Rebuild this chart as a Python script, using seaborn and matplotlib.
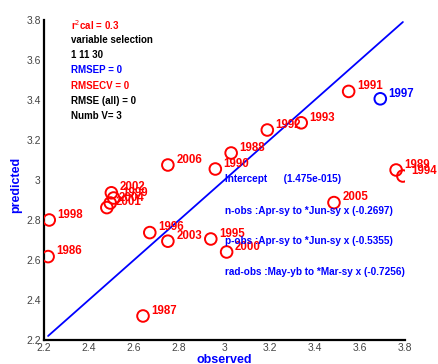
import numpy as np
import pandas as pd
import matplotlib
matplotlib.use("Agg")
import matplotlib.pyplot as plt
import seaborn as sns

# ---------- Data ----------
years = [1986, 1987, 1988, 1989, 1990, 1991, 1992, 1993, 1994, 1995,
         1996, 1998, 1999, 2000, 2001, 2002, 2003, 2004, 2005, 2006]
observed = [2.22, 2.64, 3.03, 3.76, 2.96, 3.55, 3.19, 3.34, 3.79, 2.94,
            2.67, 2.225, 2.51, 3.01, 2.48, 2.50, 2.75, 2.495, 3.485, 2.75]
predicted = [2.617, 2.32, 3.135, 3.05, 3.055, 3.443, 3.25, 3.286, 3.02, 2.705,
             2.737, 2.80, 2.91, 2.64, 2.862, 2.936, 2.694, 2.885, 2.887, 3.075]

# validation year (blue)
val_years = [1997]
val_observed = [3.69]
val_predicted = [3.406]

stats_lines = ["r$^{2}$cal = 0.3", "variable selection", "1 11 30", "RMSEP = 0",
               "RMSECV = 0", "RMSE (all) = 0", "Numb V= 3"]
stats_colors = ["red", "black", "black", "blue", "red", "black", "black"]

model_lines = ["Intercept      (1.475e-015)",
               "n-obs :Apr-sy to *Jun-sy x (-0.2697)",
               "p-obs :Apr-sy to *Jun-sy x (-0.5355)",
               "rad-obs :May-yb to *Mar-sy x (-0.7256)"]
model_y = [3.005, 2.845, 2.695, 2.54]

ticks = [2.2, 2.4, 2.6, 2.8, 3.0, 3.2, 3.4, 3.6, 3.8]
tick_labels = ["2.2", "2.4", "2.6", "2.8", "3", "3.2", "3.4", "3.6", "3.8"]

# ---------- Plot ----------
sns.set_style("white")
plt.rcParams["font.family"] = ["Liberation Sans", "DejaVu Sans"]

fig = plt.figure(figsize=(4.38, 3.64), dpi=100)
ax = fig.add_axes([0.0995, 0.066, 0.8255, 0.879])

cal = pd.DataFrame({"observed": observed, "predicted": predicted, "year": years})
val = pd.DataFrame({"observed": val_observed, "predicted": val_predicted, "year": val_years})

# 1:1 line over the observed range
all_obs = observed + val_observed
lo, hi = min(all_obs), max(all_obs)
sns.lineplot(x=[lo, hi], y=[lo, hi], color="blue", lw=1.3, ax=ax)

sns.scatterplot(data=cal, x="observed", y="predicted", s=70, facecolor="none",
                edgecolor="red", linewidth=1.4, ax=ax, zorder=3)
sns.scatterplot(data=val, x="observed", y="predicted", s=70, facecolor="none",
                edgecolor="blue", linewidth=1.4, ax=ax, zorder=3)

for yr, xo, yo in zip(years, observed, predicted):
    ax.annotate(str(yr), (xo, yo), xytext=(6, -0.5),
                textcoords="offset points", color="red", fontsize=8.3,
                fontweight="bold", va="bottom")
for yr, xo, yo in zip(val_years, val_observed, val_predicted):
    ax.annotate(str(yr), (xo, yo), xytext=(6, -0.5),
                textcoords="offset points", color="blue", fontsize=8.3,
                fontweight="bold", va="bottom")

for i, (txt, c) in enumerate(zip(stats_lines, stats_colors)):
    ax.text(0.077, 0.985 - i * 0.0475, txt, transform=ax.transAxes, color=c,
            fontsize=7, fontweight="bold", va="center")

for txt, yy in zip(model_lines, model_y):
    ax.text(3.005, yy, txt, color="blue", fontsize=7.2, fontweight="bold", va="center")

ax.set_xlim(2.2, 3.8)
ax.set_ylim(2.2, 3.8)
ax.set_xticks(ticks)
ax.set_xticklabels(tick_labels)
ax.set_yticks(ticks)
ax.set_yticklabels(tick_labels)
ax.tick_params(direction="in", length=4, width=1.2, colors="black",
               labelcolor="#444444", labelsize=7.5, pad=2)

sns.despine(ax=ax)
for side in ["left", "bottom"]:
    ax.spines[side].set_linewidth(1.6)
    ax.spines[side].set_color("black")

ax.set_xlabel("observed", color="blue", fontsize=9, fontweight="bold", labelpad=1)
ax.set_ylabel("predicted", color="blue", fontsize=9, fontweight="bold")
ax.yaxis.set_label_coords(-0.058, 0.484)

fig.savefig("out.png", dpi=100)
